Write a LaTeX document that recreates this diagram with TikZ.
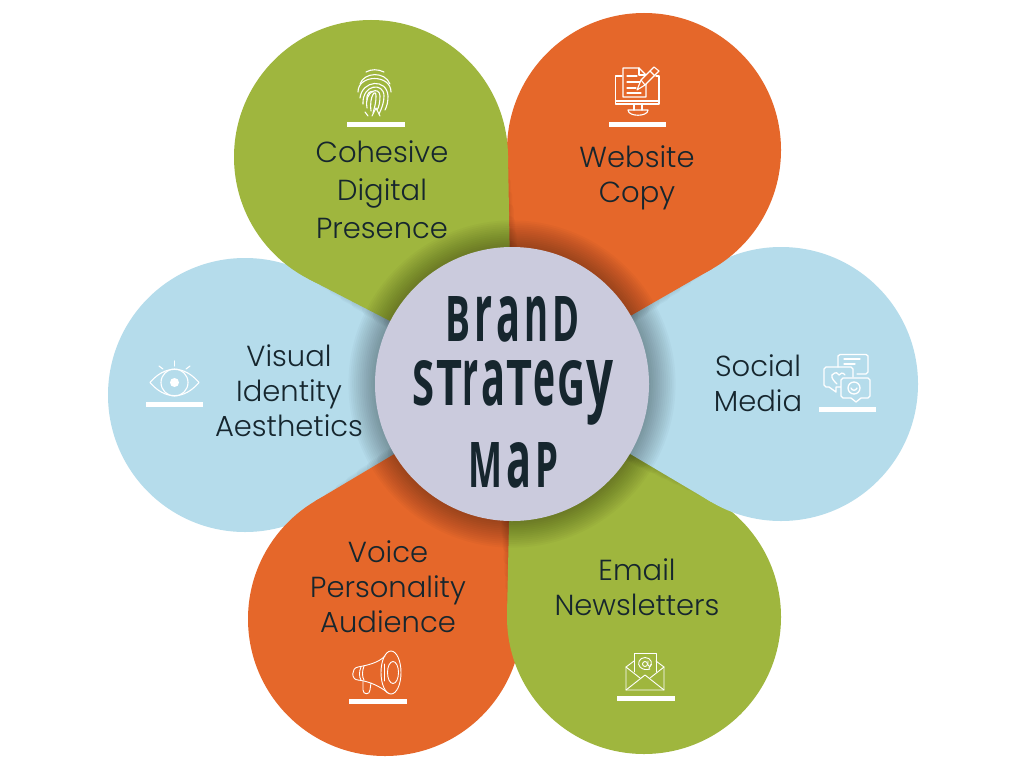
\documentclass[tikz,border=0pt]{standalone}
\usepackage{fontspec}
\usepackage{graphicx}
\setmainfont{Poppins Light}
\newfontfamily\titlefont{Open Sans}
\usetikzlibrary{calc}
\definecolor{pgreen}{HTML}{9FB63E}
\definecolor{porange}{HTML}{E5672A}
\definecolor{pblue}{HTML}{B5DCEB}
\definecolor{phub}{HTML}{CBCBDD}
\definecolor{ink}{HTML}{16262E}
\newcommand{\petal}[4]{%
  \pgfmathsetmacro\petalD{veclen(#1-512,#2-384)}%
  \pgfmathsetmacro\petalA{asin(137/\petalD)}%
  \pgfmathsetmacro\petalL{\petalD*cos(\petalA)}%
  \coordinate (#4c) at (#1,#2);
  \coordinate (#4a) at ($(tip)!\petalL pt!\petalA:(#4c)$);
  \coordinate (#4b) at ($(tip)!\petalL pt!-\petalA:(#4c)$);
  \foreach \i in {1,...,14}{
    \pgfmathsetmacro\petalT{\petalL*(1-\i/17)}
    \draw[black,opacity=.022,line width=\i*2.4pt,line cap=round] (tip) -- ($(tip)!\petalT pt!\petalA:(#4c)$);
    \draw[black,opacity=.022,line width=\i*2.4pt,line cap=round] (tip) -- ($(tip)!\petalT pt!-\petalA:(#4c)$);
  }
  \fill[#3] (#4c) circle[radius=137];
  \fill[#3] (tip) -- (#4a) -- (#4c) -- (#4b) -- cycle;
}
\newcommand{\gl}[2]{\resizebox{#1pt}{45pt}{\titlefont\bfseries #2}}
\newcommand{\gp}{\kern4pt}
\tikzset{
  label/.style={text=ink,align=center,inner sep=0pt,font=\fontsize{29}{35}\selectfont},
  title/.style={text=ink,inner sep=0pt,anchor=center},
  bar/.style={fill=white},
  icon/.style={draw=white,line width=1.1pt,line cap=round,line join=round,fill=none}
}
\begin{document}
\begin{tikzpicture}[x=1pt,y=-1pt]
\useasboundingbox (0,0) rectangle (1024,768);
\fill[white] (0,0) rectangle (1024,768);
\coordinate (tip) at (512,384);
\petal{245}{395}{pblue}{L}
\petal{385}{619}{porange}{BL}
\petal{644}{617}{pgreen}{BR}
\petal{781}{384}{pblue}{R}
\petal{644}{150}{porange}{TR}
\petal{371}{157}{pgreen}{TL}
% hub
\foreach \i in {1,...,14}{
  \fill[black,opacity=.022] (tip) circle[radius=137+\i*1.9];
}
\node[circle,fill=phub,minimum size=274pt,inner sep=0pt] (hub) at (tip) {};
\node[title] (brand) at (512.5,319.5) {\gl{25}{B}\gp\gl{18}{r}\gp\gl{24}{a}\gp\gl{24}{n}\gp\gl{27}{D}};
\node[title] (strategy) at (512.5,393) {\gl{22}{S}\kern2pt\gl{26}{T}\kern1pt\gl{16}{r}\kern2pt\gl{24}{a}\kern1pt\gl{26}{T}\kern1pt\gl{22}{e}\kern2pt\gl{28}{G}\kern1pt\gl{27}{y}};
\node[title] (map) at (513,465.5) {\gl{34}{M}\gp\gl{25}{a}\gp\gl{23}{P}};
% labels
\node[label,font=\fontsize{29}{38}\selectfont] (cohesive) at (382,190) {Cohesive\\Digital\\Presence};
\node[label] (website) at (637,178) {Website\\Copy};
\node[label] (social) at (758,383) {Social\\Media};
\node[label] (visual) at (289,391) {Visual\\Identity\\Aesthetics};
\node[label] (voice) at (388,587) {Voice\\Personality\\Audience};
\node[label] (email) at (637,587) {Email\\Newsletters};
% bars
\fill[bar] (347,122) rectangle (405,127);
\fill[bar] (609,122) rectangle (666,127);
\fill[bar] (146,402) rectangle (203,407);
\fill[bar] (819,407) rectangle (876,412);
\fill[bar] (349,699) rectangle (407,704);
\fill[bar] (617,696) rectangle (675,701);
% fingerprint
\begin{scope}[icon]
\draw (366,72) .. controls (371,69) and (378,69) .. (384,72);
\draw (360,84) .. controls (364,72) and (385,71) .. (390,84);
\draw (358,92) .. controls (358,74) and (391,74) .. (391,92);
\draw (360,98) .. controls (362,80) and (387,78) .. (388,96) .. controls (388,102) and (387,106) .. (385,110);
\draw (363,104) .. controls (362,84) and (384,82) .. (384,96) .. controls (384,102) and (382,108) .. (379,114);
\draw (367,108) .. controls (364,90) and (380,86) .. (380,96) .. controls (380,102) and (379,107) .. (377,110);
\draw (371,111) .. controls (369,96) and (376,88) .. (376,96) .. controls (376,102) and (375,106) .. (373,113);
\draw (367,100) .. controls (366,93) and (371,90) .. (373,92);
\draw (365,112) -- (368,116);
\draw (380,116) -- (376,108) -- (372,116);
\end{scope}
% monitor
\begin{scope}[icon]
\draw (622,76) -- (615.5,76) -- (615.5,104) -- (659,104) -- (659,76) -- (656,76);
\draw (615.5,101) -- (659,101);
\draw (634,104) -- (634,110);
\draw (642,104) -- (642,110);
\draw (628,110) -- (648,110) .. controls (648,117) and (628,117) .. (628,110);
\draw[fill=porange] (623,68) -- (639,68) -- (646,75) -- (646,97) -- (623,97) -- cycle;
\draw (639,68) -- (639,75) -- (646,75);
\draw (627,76) -- (637,76);
\draw (627,82) -- (641,82);
\draw (627,88) -- (636,88);
\draw (627,93) -- (641,93);
\draw[fill=porange] (637,90) -- (641,80) -- (654,67) -- (659,71) -- (645,85) -- cycle;
\draw (641,80) -- (645,85);
\draw (650,71) -- (655,76);
\end{scope}
% eye
\begin{scope}[icon]
\draw (150,382.5) .. controls (165,365) and (184,365) .. (199,382.5) .. controls (184,400) and (165,400) .. (150,382.5);
\draw (174.5,382.5) circle[radius=13.5];
\fill[white] (174.5,382.5) circle[radius=4.5];
\draw (174.5,361) -- (174.5,366);
\draw (159,366) -- (163,369);
\draw (190,366) -- (186,369);
\end{scope}
% chat bubbles
\begin{scope}[icon,line width=1.3pt]
\draw (838,367) -- (838,356) -- (840,354.5) -- (866,354.5) -- (868,356) -- (868,372) -- (866,374) -- (857,374);
\draw (844,359) -- (860,359);
\draw (844,364) -- (855,364);
\draw (841,387) -- (836,387) -- (836,392) -- (829,387) -- (826,387) -- (824,385) -- (824,369) -- (826,367) -- (851,367) -- (853,369) -- (853,377);
\draw (832,375) .. controls (836,371) and (838,373) .. (839,375) .. controls (840,373) and (843,372) .. (845,375);
\draw (832,375) .. controls (831,378) and (834,381) .. (837,384);
\draw[fill=pblue] (843,378) -- (868,378) -- (870,380) -- (870,396) -- (868,398) -- (861,398) -- (856,402) -- (851,398) -- (843,398) -- (841,396) -- (841,380) -- cycle;
\draw (854,388) circle[radius=6];
\draw (851,388) .. controls (852,391) and (856,391) .. (857,388);
\end{scope}
% megaphone
\begin{scope}[icon,line width=.9pt]
\draw (391,672.5) ellipse[x radius=10,y radius=21.5];
\draw (393,672.5) ellipse[x radius=5.5,y radius=11];
\draw (385,656) .. controls (378,663) and (368,665) .. (358,667) .. controls (351,668) and (351,680) .. (358,680) .. controls (368,681) and (380,686) .. (388,693);
\draw (361,667) .. controls (359,671) and (359,677) .. (361,680);
\draw (364,666) .. controls (362,671) and (362,677) .. (364,680);
\draw (363,681) -- (363,690) .. controls (363,695) and (370,695) .. (370,690) -- (371,683);
\draw (384.5,664) -- (384.5,681);
\end{scope}
% mail
\begin{scope}[icon,line width=.9pt]
\draw (634,661) -- (626,667) -- (626,690) -- (664,690) -- (664,667) -- (656,661);
\draw (634,672) -- (634,653) -- (656,653) -- (656,672);
\draw (626,667) -- (640,678);
\draw (664,667) -- (650,678);
\draw (626,690) -- (645,675) -- (664,690);
\draw (649,668) .. controls (654,664) and (651,657.5) .. (645,657.5) .. controls (639,657.5) and (637,664) .. (640,667) .. controls (643,670) and (647,670) .. (650,669);
\draw (645,664) circle[radius=2.5];
\draw (648,661) -- (648,665) .. controls (648,667) and (651,667) .. (651,664);
\end{scope}
\end{tikzpicture}
\end{document}
